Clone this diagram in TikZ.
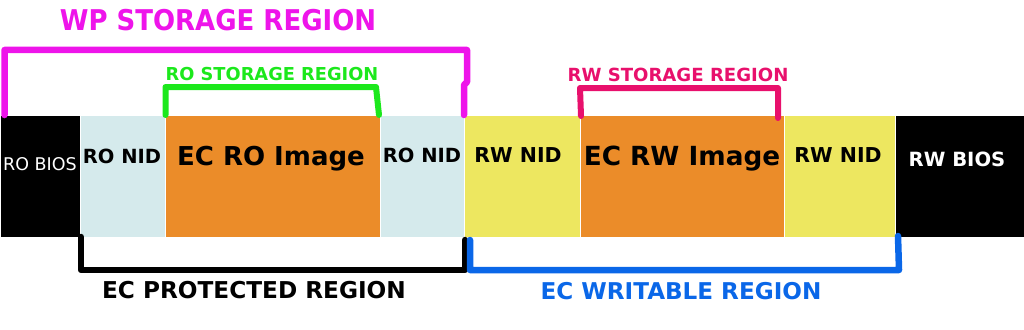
\documentclass[tikz,border=0pt]{standalone}
\usepackage{fontspec}
\setmainfont{DejaVu Sans}
\definecolor{nidblue}{HTML}{D5EAEC}
\definecolor{imgorange}{HTML}{EB8C29}
\definecolor{nidyellow}{HTML}{EDE760}
\definecolor{wpmagenta}{HTML}{EE14EA}
\definecolor{rogreen}{HTML}{1CE81C}
\definecolor{rwpink}{HTML}{E8106C}
\definecolor{ecblue}{HTML}{0A67E8}

\begin{document}
\begin{tikzpicture}[x=1pt,y=-1pt,
  blk/.style={draw=white, line width=1pt, inner sep=0pt, outer sep=0pt,
    minimum height=122, anchor=west},
  lbl/.style={anchor=base, inner sep=0pt, font=\bfseries\fontsize{#1}{#1}\selectfont},
  ttl/.style={inner sep=0pt, font=\bfseries\fontsize{#1}{#1}\selectfont},
  brk/.style={line width=6.5pt, line cap=round, line join=round}]
  \useasboundingbox (0,0) rectangle (1024,329);

  % flash blocks, left to right
  \node[blk, fill=black,     minimum width=80]  (roBios)  at (0,176)   {};
  \node[blk, fill=nidblue,   minimum width=85]  (roNidA)  at (80,176)  {};
  \node[blk, fill=imgorange, minimum width=215] (ecRo)    at (165,176) {};
  \node[blk, fill=nidblue,   minimum width=84]  (roNidB)  at (380,176) {};
  \node[blk, fill=nidyellow, minimum width=116] (rwNidA)  at (464,176) {};
  \node[blk, fill=imgorange, minimum width=204] (ecRw)    at (580,176) {};
  \node[blk, fill=nidyellow, minimum width=111] (rwNidB)  at (784,176) {};
  \node[blk, fill=black,     minimum width=129] (rwBios)  at (895,176) {};

  % block labels
  \node[anchor=base, inner sep=0pt, text=white, font=\fontsize{17.5}{17.5}\selectfont]
    (roBiosT) at (40,170) {RO BIOS};
  \node[lbl=19.5] (roNidAT) at (122,163) {RO NID};
  \node[lbl=26]   (ecRoT)   at (271,165) {EC RO Image};
  \node[lbl=19.5] (roNidBT) at (422,162) {RO NID};
  \node[lbl=20.5] (rwNidAT) at (518,162) {RW NID};
  \node[lbl=26.3] (ecRwT)   at (682,165) {EC RW Image};
  \node[lbl=20.5] (rwNidBT) at (838,162) {RW NID};
  \node[lbl=19.6, text=white] (rwBiosT) at (957,166) {RW BIOS};

  % region brackets above
  \draw[brk, wpmagenta] (4.5,115) -- (4.5,50) -- (467,50) -- (467,82) -- (464,85) -- (464,115);
  \draw[brk, rogreen, line width=6pt] (165.5,115) -- (165.5,87) -- (376,87) -- (379,115);
  \draw[brk, rwpink, line width=6pt] (581,116) -- (580,88) -- (778,88) -- (778,118);

  % region brackets below
  \draw[brk, black] (81,237) -- (81,270) -- (465,270) -- (465,240);
  \draw[brk, ecblue] (470,240) -- (470,270) -- (899,270) -- (898,236);

  % region titles
  \node[ttl=26, text=wpmagenta] (wpT) at (218,20) {\scalebox{1}[1.1]{WP STORAGE REGION}};
  \node[ttl=17.8, text=rogreen] (roT) at (272,74) {RO STORAGE REGION};
  \node[ttl=18.1, text=rwpink]  (rwT) at (678,75) {RW STORAGE REGION};
  \node[ttl=23.2, text=black]   (ecpT) at (254,290) {EC PROTECTED REGION};
  \node[ttl=23.1, text=ecblue]  (ecwT) at (681,291) {EC WRITABLE REGION};
\end{tikzpicture}
\end{document}
